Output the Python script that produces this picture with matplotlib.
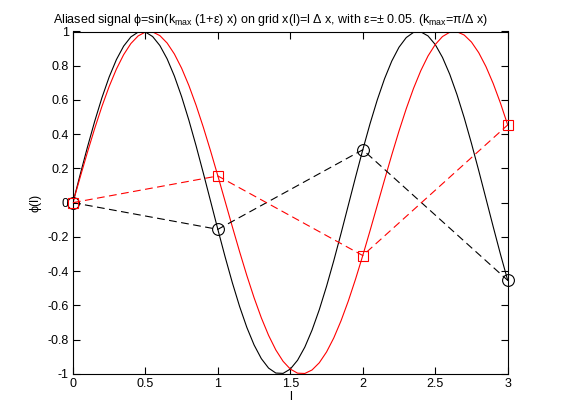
import matplotlib
matplotlib.use("Agg")
import matplotlib.pyplot as plt

plt.rcParams['font.family'] = ['Liberation Sans', 'DejaVu Sans']
plt.rcParams['mathtext.default'] = 'regular'

x_fine = [i * 0.05 for i in range(61)]
black_curve = [0, 0.1642, 0.3239, 0.4748, 0.6129, 0.7343, 0.8358, 0.9147, 0.9686, 0.9963,
               0.9969, 0.9705, 0.9178, 0.8400, 0.7396, 0.6191, 0.4818, 0.3313, 0.1719, 0.0079,
               -0.1564, -0.3165, -0.4679, -0.6066, -0.7290, -0.8315, -0.9114, -0.9666, -0.9956, -0.9975,
               -0.9724, -0.9208, -0.8443, -0.7446, -0.6252, -0.4886, -0.3387, -0.1797, -0.0157, 0.1487,
               0.3090, 0.4609, 0.6004, 0.7236, 0.8271, 0.9082, 0.9646, 0.9948, 0.9980, 0.9742,
               0.9239, 0.8486, 0.7501, 0.6313, 0.4955, 0.3461, 0.1874, 0.0236, -0.1409, -0.3015,
               -0.4540]
red_curve = [0, 0.1487, 0.2940, 0.4329, 0.5621, 0.6788, 0.7804, 0.8646, 0.9298, 0.9742,
             0.9969, 0.9975, 0.9759, 0.9326, 0.8686, 0.7853, 0.6845, 0.5686, 0.4399, 0.3015,
             0.1564, 0.0079, -0.1409, -0.2865, -0.4258, -0.5556, -0.6730, -0.7754, -0.8607, -0.9269,
             -0.9724, -0.9963, -0.9980, -0.9776, -0.9354, -0.8725, -0.7902, -0.6901, -0.5750, -0.4470,
             -0.3090, -0.1642, -0.0157, 0.1331, 0.2790, 0.4187, 0.5490, 0.6672, 0.7705, 0.8568,
             0.9239, 0.9705, 0.9956, 0.9985, 0.9792, 0.9382, 0.8763, 0.7948, 0.6959, 0.5814,
             0.4540]

# grid samples
l_grid = [0, 1, 2, 3]
black_samples = [0, -0.156, 0.309, -0.454]
red_samples = [0, 0.156, -0.309, 0.454]

xticks = [0, 0.5, 1, 1.5, 2, 2.5, 3]
xticklabels = ['0', '0.5', '1', '1.5', '2', '2.5', '3']
yticks = [-1, -0.8, -0.6, -0.4, -0.2, 0, 0.2, 0.4, 0.6, 0.8, 1]
yticklabels = ['-1', '-0.8', '-0.6', '-0.4', '-0.2', '0', '0.2', '0.4', '0.6', '0.8', '1']

RED = '#ff0000'

fig = plt.figure(figsize=(5.61, 4.2), dpi=100)
ax = fig.add_axes([0.13, 0.11, 0.775, 0.815])

ax.plot(x_fine, black_curve, color='black', lw=0.8)
ax.plot(x_fine, red_curve, color=RED, lw=0.8)
ax.plot(l_grid, black_samples, color='black', lw=0.8, ls=(0, (7, 4)),
        marker='o', ms=8.5, mfc='none', mec='black', mew=0.8, clip_on=False, zorder=3)
ax.plot(l_grid, red_samples, color=RED, lw=0.8, ls=(0, (7, 4)),
        marker='s', ms=6.5, mfc='none', mec=RED, mew=0.8, clip_on=False, zorder=3)

ax.set_xlim(0, 3)
ax.set_ylim(-1, 1)
ax.set_xticks(xticks)
ax.set_xticklabels(xticklabels)
ax.set_yticks(yticks)
ax.set_yticklabels(yticklabels)
ax.tick_params(direction='in', top=True, right=True, length=5, width=0.8,
               labelsize=9, pad=3)
for s in ax.spines.values():
    s.set_linewidth(0.8)

ax.set_xlabel('l', fontsize=9, labelpad=1)
ax.set_ylabel('ϕ(l)', fontsize=9, labelpad=4)
ax.set_title('Aliased signal ϕ=sin(k$_{max}$ (1+ε) x) on grid x(l)=l Δ x, with ε=± 0.05. (k$_{max}$=π/Δ x)',
             fontsize=9, pad=6, x=0.455)

fig.savefig('out.png', dpi=100)
